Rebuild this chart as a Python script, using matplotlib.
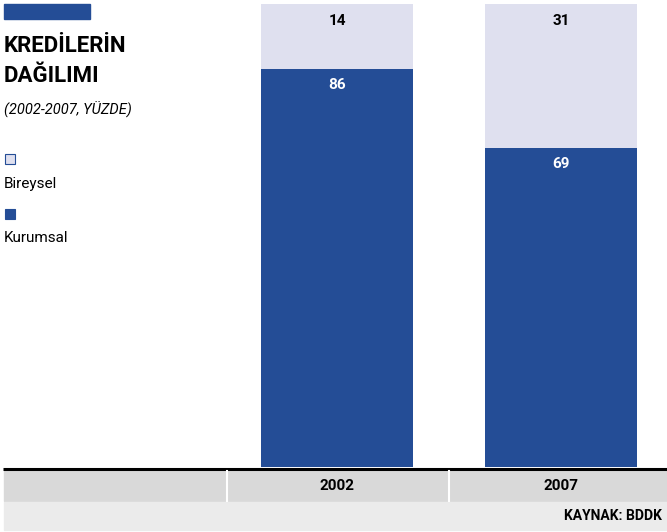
import matplotlib
matplotlib.use("Agg")
import matplotlib.pyplot as plt
import matplotlib.transforms as mtrans
from matplotlib.patches import Rectangle

# dados
anos = ["2002", "2007"]
kurumsal = [86, 69]
bireysel = [14, 31]
titulo = ["KREDİLERİN", "DAĞILIMI"]
subtitulo = "(2002-2007, YÜZDE)"
fonte = "KAYNAK: BDDK"

azul = "#244d96"
claro = "#dfe0ef"
plt.rcParams["font.family"] = ["Roboto", "DejaVu Sans"]

fig = plt.figure(figsize=(6.67, 5.32), dpi=100)

# camada de fundo em pixels (decoração)
bg = fig.add_axes([0, 0, 1, 1])
bg.set_xlim(0, 667)
bg.set_ylim(532, 0)
bg.axis("off")

bg.add_patch(Rectangle((4, 4), 86, 15, color=azul))
bg.text(4, 46, titulo[0], fontsize=16, fontweight="bold", va="center", ha="left")
bg.text(4, 76, titulo[1], fontsize=16, fontweight="bold", va="center", ha="left")
bg.text(4, 110, subtitulo, fontsize=10.5, style="italic", va="center", ha="left")

# legenda
bg.add_patch(Rectangle((4.5, 153.5), 10, 10, facecolor=claro, edgecolor=azul, lw=0.8))
bg.text(4, 184, "Bireysel", fontsize=11, va="center", ha="left")
bg.add_patch(Rectangle((4.5, 208.5), 10, 10, facecolor=azul, edgecolor=azul, lw=0.8))
bg.text(4, 238, "Kurumsal", fontsize=11, va="center", ha="left")

# linha base e tabela
bg.plot([3, 667], [468.5, 468.5], color="black", lw=2.2, solid_capstyle="butt")
bg.add_patch(Rectangle((4, 471), 663, 29.5, color="#d9d9d9"))
bg.add_patch(Rectangle((4, 502), 663, 28, color="#ebebeb"))
for xd in [227, 449]:
    bg.plot([xd, xd], [471, 500.5], color="white", lw=1.5)
bg.text(662, 516, fonte, fontsize=10, fontweight="bold", va="center", ha="right")

# gráfico de barras
ax = fig.add_axes([226 / 667, (532 - 467) / 532, (667 - 226) / 667, 463 / 532])
ax.patch.set_alpha(0)
x = list(range(len(anos)))
ax.bar(x, kurumsal, width=0.679, color=azul)
ax.bar(x, bireysel, width=0.679, bottom=kurumsal, color=claro)
ax.set_xlim(-0.4955, 1.473)
ax.set_ylim(0, 100)
ax.axis("off")

for i in x:
    ax.annotate(str(kurumsal[i]), (i, kurumsal[i]), xytext=(0, -12), textcoords="offset points",
                ha="center", va="center", color="white", fontsize=11, fontweight="bold")
    ax.annotate(str(bireysel[i]), (i, kurumsal[i] + bireysel[i]), xytext=(0, -12),
                textcoords="offset points", ha="center", va="center", color="black",
                fontsize=11, fontweight="bold")

# rótulos dos anos na tabela
trans = mtrans.blended_transform_factory(ax.transData, bg.transData)
for i in x:
    bg.text(i, 486, anos[i], transform=trans, ha="center", va="center",
            fontsize=11, fontweight="bold")

fig.savefig("out.png", dpi=100)
